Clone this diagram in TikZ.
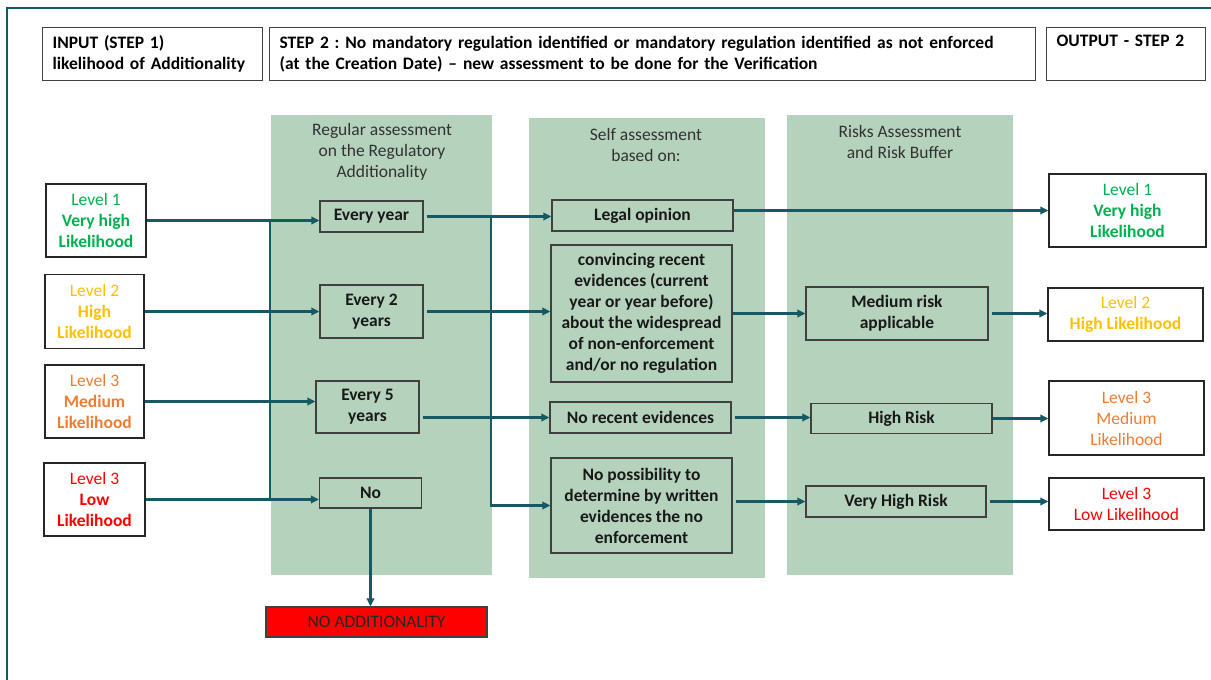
\documentclass[tikz,border=0pt]{standalone}
\usepackage{fontspec}
\setmainfont{Carlito}
\usetikzlibrary{arrows.meta}
\definecolor{tealA}{RGB}{22,88,100}
\definecolor{panelG}{RGB}{181,211,188}
\definecolor{lgreen}{RGB}{0,176,80}
\definecolor{lyellow}{RGB}{255,192,0}
\definecolor{lorange}{RGB}{237,125,49}
\definecolor{lred}{RGB}{255,0,0}
\definecolor{boxline}{RGB}{64,64,64}
\definecolor{titlegray}{RGB}{50,50,50}
\newcommand{\fsz}{\fontsize{17.5}{21}\selectfont}
\tikzset{
  every node/.style={font=\fsz},
  box/.style={draw=boxline, line width=1.2pt, inner sep=0pt, align=center, font=\bfseries\fsz, text=black!90},
  lvl/.style={draw=black!85, line width=1.2pt, inner sep=0pt, align=center, fill=white},
  hdr/.style={draw=boxline, line width=1.2pt, inner xsep=10pt, inner ysep=0pt, anchor=north west, align=left, font=\bfseries\fsz},
  panel/.style={fill=panelG, draw=none, anchor=north west, inner sep=0pt},
  ptitle/.style={align=center, text=titlegray, inner sep=0pt},
  conn/.style={draw=tealA, line width=2.2pt, -{Triangle[length=8pt,width=7.5pt]}},
  bus/.style={draw=tealA, line width=2.2pt},
}
\begin{document}
\begin{tikzpicture}[x=1pt,y=-1pt]
\useasboundingbox (0,0) rectangle (1211,680);
\fill[white] (0,0) rectangle (1211,680);
% outer frame
\coordinate (fA) at (7,680);
\coordinate (fB) at (7,8);
\coordinate (fC) at (1212,8);
\draw[tealA, line width=2pt] (fA) -- (fB) -- (fC);

% headers
\node[hdr, minimum width=220pt, minimum height=53pt, text width=200pt] (h1) at (42,27) {INPUT (STEP 1)\\likelihood of Additionality};
\node[hdr, minimum width=766pt, minimum height=53pt, text width=746pt] (h2) at (269,27) {\frenchspacing STEP 2 : No mandatory regulation identified or mandatory regulation identified as not enforced\\(at the Creation Date) -- new assessment to be done for the Verification};
\node[hdr, minimum width=159pt, minimum height=53pt, text width=139pt] (h3) at (1046,27) {OUTPUT - STEP 2\\\strut};

% panels
\node[panel, minimum width=221pt, minimum height=460pt] (p1) at (271,115) {};
\node[panel, minimum width=236pt, minimum height=460pt] (p2) at (529,118) {};
\node[panel, minimum width=226pt, minimum height=460pt] (p3) at (787,115) {};
\node[ptitle] (t1) at (382,152) {Regular assessment\\on the Regulatory\\Additionality};
\node[ptitle] (t2) at (646,144.5) {Self assessment\\based on:};
\node[ptitle] (t3) at (900,141.5) {Risks Assessment\\and Risk Buffer};

% inputs
\node[lvl, minimum width=100pt, minimum height=73pt] (i1) at (96,220.5) {\color{lgreen}Level 1\\\color{lgreen}\bfseries Very high\\\color{lgreen}\bfseries Likelihood};
\node[lvl, minimum width=99pt, minimum height=74pt] (i2) at (94.5,311.5) {\color{lyellow}Level 2\\\color{lyellow}\bfseries High\\\color{lyellow}\bfseries Likelihood};
\node[lvl, minimum width=99pt, minimum height=73pt] (i3) at (94.5,401.5) {\color{lorange}Level 3\\\color{lorange}\bfseries Medium\\\color{lorange}\bfseries Likelihood};
\node[lvl, minimum width=101pt, minimum height=73pt] (i4) at (94.5,499.5) {\color{lred}Level 3\\\color{lred}\bfseries Low\\\color{lred}\bfseries Likelihood};

% panel 1 boxes
\node[box, minimum width=103pt, minimum height=31pt] (ey) at (371.5,216.5) {Every year};
\node[box, minimum width=103pt, minimum height=53pt] (e2) at (371.5,311.5) {Every 2\\years};
\node[box, minimum width=103pt, minimum height=52pt] (e5) at (367.5,407) {Every 5\\years};
\node[box, minimum width=102pt, minimum height=30pt] (no) at (370.5,493) {No};
\node[draw=boxline, line width=1.2pt, fill=red, minimum width=221pt, minimum height=30pt, inner sep=0pt, text=black!85] (na) at (376.5,622) {NO ADDITIONALITY};

% panel 2 boxes
\node[box, minimum width=181pt, minimum height=31pt] (lo) at (642.5,215.5) {Legal opinion};
\node[box, minimum width=181pt, minimum height=137pt] (cv) at (641.5,313.5) {convincing recent\\evidences (current\\year or year before)\\about the widespread\\of non-enforcement\\and/or no regulation};
\node[box, minimum width=181pt, minimum height=31pt] (nr) at (640.5,417.5) {No recent evidences};
\node[box, minimum width=181pt, minimum height=95pt] (np) at (641.5,505.5) {No possibility to\\determine by written\\evidences the no\\enforcement};

% panel 3 boxes
\node[box, minimum width=182pt, minimum height=53pt] (mr) at (897,313.5) {Medium risk\\applicable};
\node[box, minimum width=181pt, minimum height=30pt] (hr) at (901.5,418.5) {High Risk};
\node[box, minimum width=180pt, minimum height=31pt] (vh) at (896,501.5) {Very High Risk};

% outputs
\node[lvl, minimum width=157pt, minimum height=73pt] (o1) at (1127.5,210.5) {\color{lgreen}Level 1\\\color{lgreen}\bfseries Very high\\\color{lgreen}\bfseries Likelihood};
\node[lvl, minimum width=155pt, minimum height=53pt] (o2) at (1125.5,314.5) {\color{lyellow}Level 2\\\color{lyellow}\bfseries High Likelihood};
\node[lvl, minimum width=155pt, minimum height=74pt] (o3) at (1126.5,418) {\color{lorange}Level 3\\\color{lorange}Medium\\\color{lorange}Likelihood};
\node[lvl, minimum width=155pt, minimum height=52pt] (o4) at (1126.5,504) {\color{lred}Level 3\\\color{lred}Low Likelihood};

% bus coordinates
\coordinate (b1x) at (270,0);
\coordinate (b2x) at (491,0);

% input arrows
\draw[bus] (i1.east -| b1x) -- (i4.east -| b1x);
\draw[conn] (i1.east) -- (i1.east -| ey.west);
\draw[conn] (i2.east) -- (i2.east -| e2.west);
\draw[conn] (i3.east) -- (i3.east -| e5.west);
\draw[conn] (i4.east) -- (i4.east -| no.west);
\draw[conn] (no.south) -- (no.south |- na.north);

% panel1 -> panel2
\draw[conn, shorten <=3pt] (ey.east) -- (ey.east -| lo.west);
\draw[conn, shorten <=3pt] (e2.east) -- (e2.east -| cv.west);
\draw[conn, shorten <=3pt] (nr.west -| e5.east) -- (nr.west);
\draw[conn] (ey.east -| b2x) |- (np.west);

% panel2 -> panel3 / outputs
\draw[conn] (o1.west -| lo.east) -- (o1.west);
\draw[conn] (cv.east) -- (cv.east -| mr.west);
\draw[conn, shorten <=3pt] (nr.east) -- (nr.east -| hr.west);
\draw[conn, shorten <=3pt] (vh.west -| np.east) -- (vh.west);

% panel3 -> outputs
\draw[conn, shorten <=3pt] (mr.east) -- (mr.east -| o2.west);
\draw[conn] (hr.east) -- (hr.east -| o3.west);
\draw[conn, shorten <=3pt] (vh.east) -- (vh.east -| o4.west);
\end{tikzpicture}
\end{document}
